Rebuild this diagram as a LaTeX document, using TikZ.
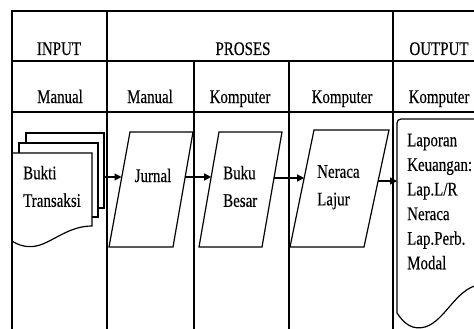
\documentclass[tikz,border=0pt]{standalone}
\usepackage{fontspec}
\setmainfont{Liberation Serif}[FakeStretch=0.78,FakeBold=0.3]
\usetikzlibrary{arrows.meta}
\begin{document}
\begin{tikzpicture}[x=1pt,y=-1pt,
  grid/.style={line width=1.5pt},
  shapeline/.style={line width=1.2pt, line join=miter},
  flow/.style={line width=1.2pt, -{Triangle[length=7pt,width=7pt]}},
  lbl/.style={font=\fontsize{19.2}{24.6}\selectfont, inner sep=0pt},
]
\useasboundingbox (0,0) rectangle (474,329);
\begin{scope}
\clip (0,0) rectangle (474,329);
% table
\draw[grid] (12,331) -- (12,11) -- (480,11);
\draw[grid] (12,61) -- (480,61);
\draw[grid] (12,112) -- (480,112);
\draw[grid] (107,11) -- (107,331);
\draw[grid] (194,61) -- (194,331);
\draw[grid] (289,61) -- (289,331);
\draw[grid] (393,11) -- (393,331);
% headers
\node[lbl, anchor=base] (hin) at (59,55) {INPUT};
\node[lbl, anchor=base] (hpr) at (243,55) {PROSES};
\node[lbl, anchor=base] (hout) at (439,55) {OUTPUT};
\node[lbl, anchor=base] (m1) at (60,103) {Manual};
\node[lbl, anchor=base] (m2) at (150,103) {Manual};
\node[lbl, anchor=base] (k3) at (240,103) {Komputer};
\node[lbl, anchor=base] (k4) at (342,103) {Komputer};
\node[lbl, anchor=base] (k5) at (439,103) {Komputer};
% Bukti transaksi (multi-document)
\draw[shapeline] (26,143) -- (26,133) -- (104,133) -- (104,208) -- (98,208);
\draw[shapeline] (19,153) -- (19,143) -- (98,143) -- (98,217) -- (92,217);
\draw[shapeline] (12,153) -- (92,153) -- (92,226)
  .. controls (70,226) and (55,240) .. (40,245)
  .. controls (28,249) and (18,245) .. (12,241) -- cycle;
\node[lbl, anchor=north west, align=left] (bt) at (23,165.7) {Bukti\\[3pt]Transaksi};
% Jurnal
\draw[shapeline] (130,132) -- (193,132) -- (173,247) -- (109,247) -- cycle;
\node[lbl, anchor=base] (jt) at (153,182) {Jurnal};
% Buku Besar
\draw[shapeline] (219,132) -- (282,132) -- (262,247) -- (199,247) -- cycle;
\node[lbl, anchor=north west, align=left] (bb) at (223,165.7) {Buku\\[3pt]Besar};
% Neraca Lajur
\draw[shapeline] (314,130) -- (389,130) -- (364,247) -- (290,247) -- cycle;
\node[lbl, anchor=north west, align=left] (nl) at (317,165) {Neraca\\[3pt]Lajur};
% Output document
\draw[shapeline] (480,119) [rounded corners=4pt] -- (397,119) [sharp corners] -- (397,313)
  .. controls (405,325) and (413,330) .. (425,327)
  .. controls (445,321) and (455,290) .. (478,285);
\node[lbl, anchor=north west, align=left] (lk) at (407,133.5) {Laporan\\Keuangan:\\Lap.L/R\\Neraca\\Lap.Perb.\\Modal};
% connectors
\coordinate (a1s) at (104,177); \coordinate (a1e) at (121.5,177);
\coordinate (a2s) at (185.2,177); \coordinate (a2e) at (211.2,177);
\coordinate (a3s) at (274,178); \coordinate (a3e) at (304.2,178);
\coordinate (a4s) at (378.1,181); \coordinate (a4e) at (397,181);
\draw[flow] (a1s) -- (a1e);
\draw[flow] (a2s) -- (a2e);
\draw[flow] (a3s) -- (a3e);
\draw[flow] (a4s) -- (a4e);
\end{scope}
\end{tikzpicture}
\end{document}
